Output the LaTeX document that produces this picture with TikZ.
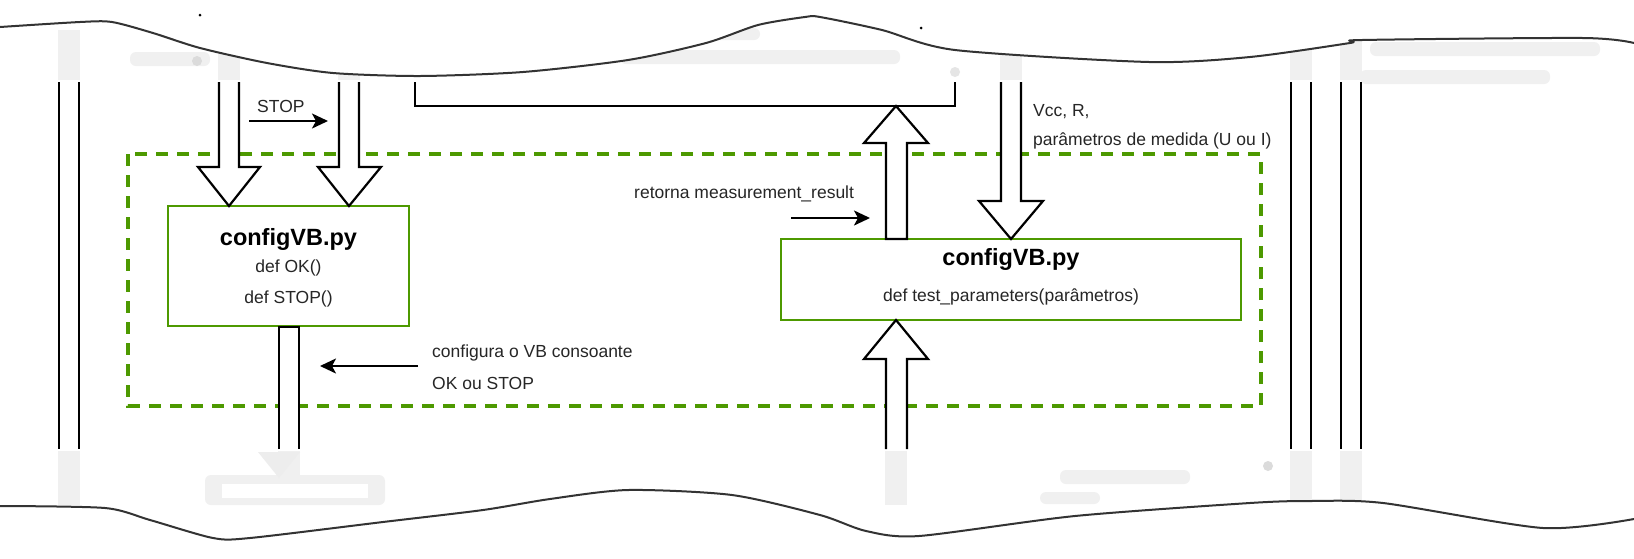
\documentclass[tikz,border=0pt]{standalone}
\usepackage{fontspec}
\setmainfont{Liberation Sans}
\usetikzlibrary{arrows.meta}
\definecolor{grn}{HTML}{4D9900}
\definecolor{tearc}{HTML}{333333}
\tikzset{
  pbox/.style={draw=grn, line width=2, fill=white, outer sep=0, inner sep=0},
  gframe/.style={draw=grn, line width=3.5, dash pattern=on 12pt off 9pt},
  txt/.style={font=\fontsize{17.5}{21}\selectfont, inner sep=0, text=black!85},
  ttl/.style={font=\fontsize{23.5}{28}\selectfont\bfseries, inner sep=0},
  blk/.style={draw=black, line width=2.2, fill=white, line join=miter},
  vline/.style={draw=black, line width=2},
  thinarr/.style={draw=black, line width=2, -{Stealth[length=16pt,width=15pt,inset=4pt]}},
  blurband/.style={draw=black!6, line width=22},
  blurtxt/.style={fill=black!6, rounded corners=6pt, draw=none},
  tearline/.style={draw=tearc, line width=2, line join=round}
}
\begin{document}
\begin{tikzpicture}[x=1pt,y=-1pt]
\useasboundingbox (0,0) rectangle (1634,558);
\fill[white] (0,0) rectangle (1634,558);

% ---- faint blurred remnants near the torn edges ----
\foreach \xx in {69,229,349,1011,1301,1351} {
  \draw[blurband] (\xx,30) -- (\xx,80);
}
\foreach \xx in {69,289,896,1301,1351} {
  \draw[blurband] (\xx,451) -- (\xx,505);
}
\fill[blurtxt] (130,52) rectangle (210,66);
\fill[black!14] (197,61) circle (5);
\fill[blurtxt] (600,28) rectangle (760,40);
\fill[blurtxt] (620,50) rectangle (900,64);
\fill[blurtxt] (1370,42) rectangle (1600,56);
\fill[blurtxt] (1360,70) rectangle (1550,84);
\fill[black!10] (955,72) circle (5);
\fill[blurtxt] (205,475) rectangle (385,505);
\fill[white] (222,484) rectangle (368,498);
\fill[black!7] (258,452) -- (300,452) -- (279,478) -- cycle;
\fill[blurtxt] (1060,470) rectangle (1190,484);
\fill[blurtxt] (1040,492) rectangle (1100,504);
\fill[black!14] (1268,466) circle (5);

% ---- dashed green container ----
\draw[gframe] (128,154) rectangle (1261,406);

% ---- vertical double lines ----
\draw[vline] (59,82) -- (59,449);
\draw[vline] (79,82) -- (79,449);
\draw[vline] (1291,82) -- (1291,449);
\draw[vline] (1311,82) -- (1311,449);
\draw[vline] (1341,82) -- (1341,449);
\draw[vline] (1361,82) -- (1361,449);

% ---- top partial rectangle ----
\draw[vline] (415,82) -- (415,106) -- (955,106) -- (955,82);

% ---- boxes ----
\node[pbox, minimum width=241, minimum height=120] (L) at (288.5,266) {};
\node[pbox, minimum width=460, minimum height=81] (R) at (1011,279.5) {};
\node[ttl, anchor=base] (Lt) at (288.5,245) {configVB.py};
\node[txt, anchor=base] (Ld1) at (288.5,272) {def OK()};
\node[txt, anchor=base] (Ld2) at (288.5,303) {def STOP()};
\node[ttl, anchor=base] (Rt) at (1011,265) {configVB.py};
\node[txt, anchor=base] (Rd) at (1011,301) {def test\_parameters(parâmetros)};

% ---- block arrows ----
\draw[blk] (219,82) -- (219,167) -- (198,167) -- (229,206) -- (260,167) -- (239,167) -- (239,82);
\draw[blk] (339,82) -- (339,167) -- (318,167) -- (349,206) -- (381,167) -- (359,167) -- (359,82);
\draw[blk] (1001,82) -- (1001,201) -- (979,201) -- (1011,239) -- (1043,201) -- (1021,201) -- (1021,82);
\draw[blk] (886,239) -- (886,143) -- (864,143) -- (896,106) -- (928,143) -- (907,143) -- (907,239) -- cycle;
\draw[blk] (886,449) -- (886,359) -- (864,359) -- (896,320) -- (928,359) -- (907,359) -- (907,449);
\draw[blk] (279,449) -- (279,327) -- (299,327) -- (299,449);

% ---- labels and thin arrows ----
\node[txt, anchor=base west] (stop) at (257,112) {STOP};
\coordinate (s1) at (249,121); \coordinate (s2) at (328,121);
\draw[thinarr] (s1) -- (s2);

\node[txt, anchor=base west] (ret) at (634,198) {retorna measurement\_result};
\coordinate (r1) at (791,218); \coordinate (r2) at (870,218);
\draw[thinarr] (r1) -- (r2);

\node[txt, anchor=base west] (cfg1) at (432,357) {configura o VB consoante};
\node[txt, anchor=base west] (cfg2) at (432,389) {OK ou STOP};
\coordinate (c1) at (418,366); \coordinate (c2) at (320,366);
\draw[thinarr] (c1) -- (c2);

\node[txt, anchor=base west] (vcc) at (1033,116) {Vcc, R,};
\node[txt, anchor=base west] (par) at (1033,145) {parâmetros de medida (U ou I)};

% ---- torn paper edges ----
\fill[white] plot[smooth, tension=0.45] coordinates {(0,27) (80,22) (112,22) (153,33) (200,48) (267,63) (333,73) (420,76) (523,72) (628,60) (706,43) (758,25) (805,17) (820,17) (882,30) (955,50) (1149,62) (1250,57) (1350,43) (1362,40) (1583,38) (1634,43)} -- (1634,0) -- (0,0) -- cycle;
\fill[white] plot[smooth, tension=0.45] coordinates {(0,506) (105,508) (150,520) (213,538) (250,538) (383,522) (483,510) (550,499) (628,490) (732,495) (820,515) (866,531) (919,536) (1075,516) (1250,503) (1310,501) (1383,503) (1543,528) (1634,519)} -- (1634,558) -- (0,558) -- cycle;
\draw[tearline] plot[smooth, tension=0.45] coordinates {(0,27) (80,22) (112,22) (153,33) (200,48) (267,63) (333,73) (420,76) (523,72) (628,60) (706,43) (758,25) (805,17) (820,17) (882,30) (955,50) (1149,62) (1250,57) (1350,43) (1362,40) (1583,38) (1634,43)};
\draw[tearline] plot[smooth, tension=0.45] coordinates {(0,506) (105,508) (150,520) (213,538) (250,538) (383,522) (483,510) (550,499) (628,490) (732,495) (820,515) (866,531) (919,536) (1075,516) (1250,503) (1310,501) (1383,503) (1543,528) (1634,519)};
\fill[black] (200,15) circle (1.5);
\fill[black] (921,28) circle (1.5);
\end{tikzpicture}
\end{document}
